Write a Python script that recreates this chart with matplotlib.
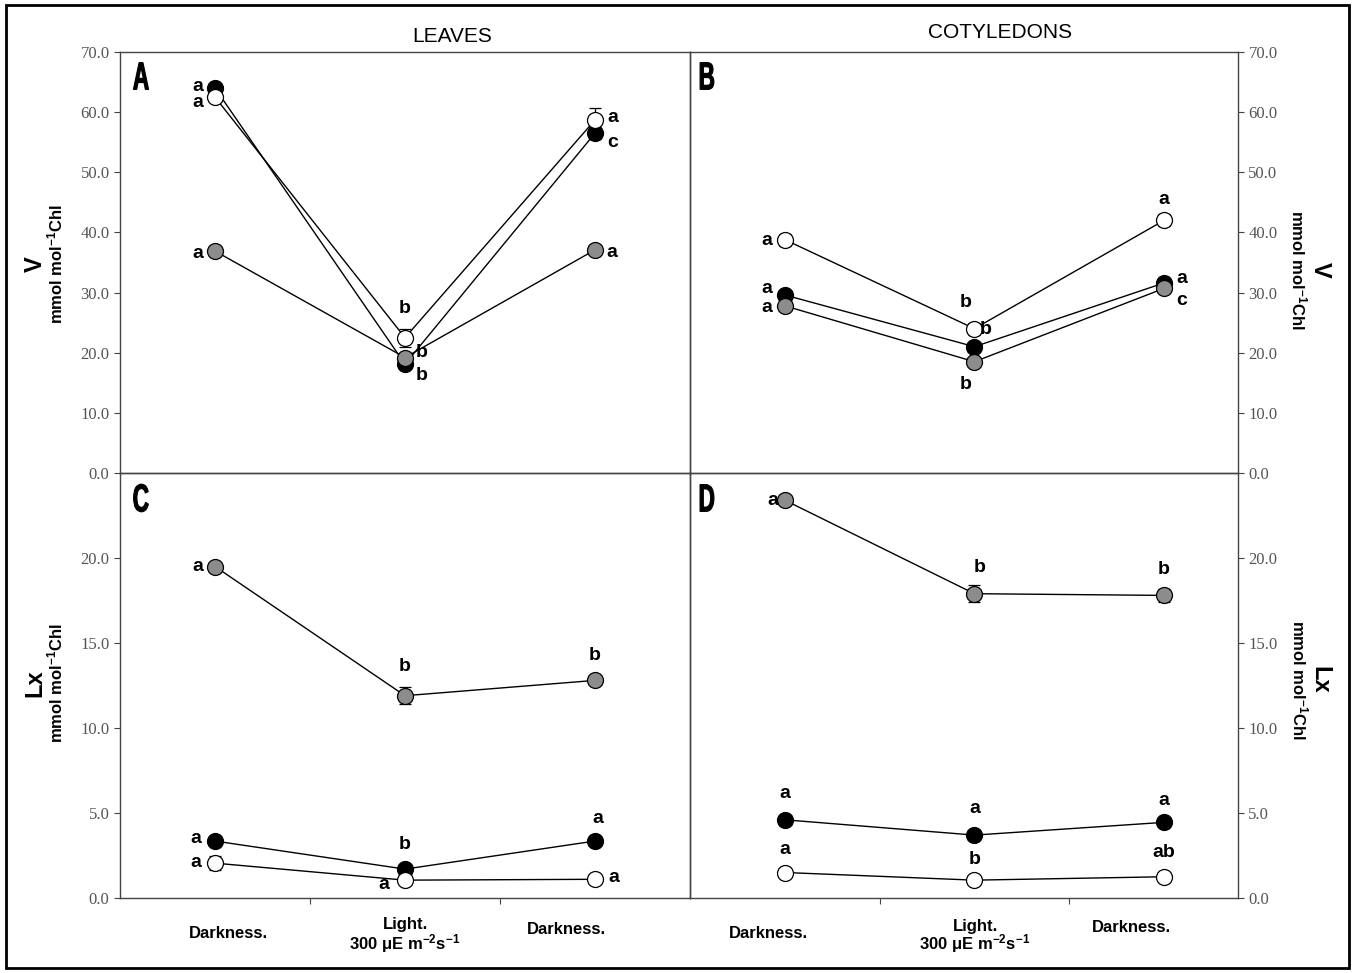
import matplotlib
matplotlib.use("Agg")
import matplotlib.pyplot as plt
from matplotlib.patches import Rectangle, PathPatch
from matplotlib.textpath import TextPath
from matplotlib.font_manager import FontProperties
from matplotlib.transforms import Affine2D

plt.rcParams["mathtext.fontset"] = "custom"
plt.rcParams["mathtext.rm"] = "Liberation Sans:bold"
plt.rcParams["mathtext.it"] = "Liberation Sans:bold"
plt.rcParams["mathtext.bf"] = "Liberation Sans:bold"

# x positions of the three conditions (centres of the tick intervals)
x = [0.5, 1.5, 2.5]
conditions = ["Darkness.", "Light.", "Darkness."]
light_sub = "300 μE m$^{-2}$s$^{-1}$"

# panel A: leaves, V
A_black = [64.0, 18.1, 56.5]
A_black_err = [0.5, 0.6, 1.0]
A_black_lab = ["a", "b", "c"]
A_white = [62.5, 22.5, 58.7]
A_white_err = [0.5, 1.5, 2.0]
A_white_lab = ["a", "b", "a"]
A_gray = [36.9, 19.2, 37.1]
A_gray_err = [0.4, 0.8, 0.5]
A_gray_lab = ["a", "b", "a"]

# panel B: cotyledons, V
B_white = [38.8, 24.0, 42.0]
B_white_err = [1.0, 1.0, 1.0]
B_white_lab = ["a", "b", "a"]
B_black = [29.6, 21.0, 31.6]
B_black_err = [0.5, 0.8, 0.5]
B_black_lab = ["a", "b", "a"]
B_gray = [27.8, 18.5, 30.7]
B_gray_err = [0.5, 0.5, 0.5]
B_gray_lab = ["a", "b", "c"]

# panel C: leaves, Lx
C_gray = [19.5, 11.9, 12.8]
C_gray_err = [0.2, 0.5, 0.2]
C_gray_lab = ["a", "b", "b"]
C_black = [3.35, 1.7, 3.35]
C_black_err = [0.2, 0.3, 0.2]
C_black_lab = ["a", "b", "a"]
C_white = [2.05, 1.05, 1.1]
C_white_err = [0.4, 0.1, 0.1]
C_white_lab = ["a", "a", "a"]

# panel D: cotyledons, Lx
D_gray = [23.4, 17.9, 17.8]
D_gray_err = [0.2, 0.5, 0.4]
D_gray_lab = ["a", "b", "b"]
D_black = [4.6, 3.7, 4.45]
D_black_err = [0.1, 0.1, 0.1]
D_black_lab = ["a", "a", "a"]
D_white = [1.5, 1.05, 1.25]
D_white_err = [0.1, 0.1, 0.1]
D_white_lab = ["a", "b", "ab"]

W, H = 1353, 973
fig = plt.figure(figsize=(W / 100, H / 100), dpi=100)

SERIF = ["Liberation Serif", "DejaVu Serif"]
SANS = ["Liberation Sans", "DejaVu Sans"]
STYLE = {"black": "black", "white": "white", "gray": "#8c8c8c"}


def box(x0, y0, x1, y1):
    return [x0 / W, 1 - y1 / H, (x1 - x0) / W, (y1 - y0) / H]


axA = fig.add_axes(box(120, 52, 690, 473))
axB = fig.add_axes(box(690, 52, 1238, 473))
axC = fig.add_axes(box(120, 473, 690, 898))
axD = fig.add_axes(box(690, 473, 1238, 898))


def series(ax, y, err, labels, colour, offsets):
    ax.errorbar(x, y, yerr=err, fmt="none", ecolor="black", elinewidth=0.9,
                capsize=4, capthick=0.9, zorder=2)
    ax.plot(x, y, "-", color="black", lw=1.0, zorder=1)
    ax.plot(x, y, "o", ms=11.5, mfc=STYLE[colour], mec="black", mew=0.9,
            zorder=3)
    for xi, yi, lab, off in zip(x, y, labels, offsets):
        ax.annotate(lab, (xi, yi), xytext=off, textcoords="offset pixels",
                    ha="center", va="center", fontsize=14, fontweight="bold",
                    family=SANS, zorder=4)


series(axA, A_black, A_black_err, A_black_lab, "black",
       [(-17, 2), (17, -11), (18, -9)])
series(axA, A_white, A_white_err, A_white_lab, "white",
       [(-17, -5), (0, 29), (18, 2)])
series(axA, A_gray, A_gray_err, A_gray_lab, "gray",
       [(-17, -2), (17, 5), (17, -3)])

series(axB, B_white, B_white_err, B_white_lab, "white",
       [(-18, -1), (-9, 26), (0, 21)])
series(axB, B_black, B_black_err, B_black_lab, "black",
       [(-18, 6), (11, 17), (18, 4)])
series(axB, B_gray, B_gray_err, B_gray_lab, "gray",
       [(-18, -2), (-9, -23), (18, -12)])

series(axC, C_gray, C_gray_err, C_gray_lab, "gray",
       [(-17, 0), (0, 29), (0, 25)])
series(axC, C_black, C_black_err, C_black_lab, "black",
       [(-19, 3), (0, 25), (3, 23)])
series(axC, C_white, C_white_err, C_white_lab, "white",
       [(-19, 1), (-21, -4), (19, 2)])

series(axD, D_gray, D_gray_err, D_gray_lab, "gray",
       [(-12, 0), (5, 26), (0, 26)])
series(axD, D_black, D_black_err, D_black_lab, "black",
       [(0, 26), (0, 27), (0, 22)])
series(axD, D_white, D_white_err, D_white_lab, "white",
       [(0, 23), (0, 21), (0, 24)])

for ax, top in [(axA, True), (axB, True), (axC, False), (axD, False)]:
    if top:
        ax.set_ylim(0, 70)
        ax.set_yticks(range(0, 71, 10))
    else:
        ax.set_ylim(0, 25)
        ax.set_yticks(range(0, 21, 5))
    ax.set_yticklabels(["%.1f" % t for t in ax.get_yticks()], family=SERIF,
                       fontsize=12, color="#555555")
    for s in ax.spines.values():
        s.set_color("#444444")
        s.set_linewidth(1.0)
    ax.tick_params(axis="y", direction="out", length=4, color="#444444")
    ax.tick_params(axis="x", direction="out", length=4, color="#444444")
    ax.set_facecolor("none")

axA.set_xlim(0, 3)
axC.set_xlim(0, 3)
axB.set_xlim(0, 2.89)
axD.set_xlim(0, 2.89)
for ax in (axA, axB):
    ax.set_xticks([])
for ax in (axC, axD):
    ax.set_xticks([1, 2])
    ax.set_xticklabels([])
for ax in (axB, axD):
    ax.yaxis.tick_right()

# panel letters, drawn as horizontally squeezed text paths (condensed look)
fp = FontProperties(family=SANS, weight="bold")
for letter, px, py in [("A", 141, 76), ("B", 707, 76), ("C", 141, 498),
                       ("D", 707, 498)]:
    tp = TextPath((0, 0), letter, size=39, prop=fp)
    bb = tp.get_extents()
    tr = (Affine2D().translate(-(bb.x0 + bb.x1) / 2, -(bb.y0 + bb.y1) / 2)
          .scale(0.58, 1.0).translate(px, H - py))
    fig.patches.append(PathPatch(tr.transform_path(tp), facecolor="black",
                                 edgecolor="black", lw=0.8, transform=None))

# titles
fig.text(452 / W, 1 - 37 / H, "LEAVES", ha="center", va="center",
         fontsize=15, family=SANS)
fig.text(1000 / W, 1 - 33 / H, "COTYLEDONS", ha="center", va="center",
         fontsize=15, family=SANS)

# category labels under the bottom panels
for px, py, lab in [(228, 933, conditions[0]), (405, 925, conditions[1]),
                    (566, 930, conditions[2]), (768, 934, conditions[0]),
                    (975, 926, conditions[1]), (1131, 928, conditions[2])]:
    fig.text(px / W, 1 - py / H, lab, ha="center", va="center", fontsize=12,
             fontweight="bold", family=SANS)
for px in (405, 975):
    fig.text(px / W, 1 - 944 / H, light_sub, ha="center", va="center",
             fontsize=12, fontweight="bold", family=SANS)

# y axis titles
unit = "mmol mol$^{-1}$Chl"
for (xv, xu, yc, name, rot) in [(35, 55, 264, "V", 90), (35, 55, 683, "Lx", 90),
                                (1320, 1299, 270, "V", 270),
                                (1320, 1300, 680, "Lx", 270)]:
    fig.text(xv / W, 1 - yc / H, name, ha="center", va="center", fontsize=17,
             fontweight="bold", family=SANS, rotation=rot)
    fig.text(xu / W, 1 - yc / H, unit, ha="center", va="center", fontsize=12,
             fontweight="bold", family=SANS, rotation=rot)

# outer frame
fig.patches.append(Rectangle((6 / W, 1 - 968 / H), 1343 / W, 963 / H,
                             transform=fig.transFigure, fill=False,
                             edgecolor="black", lw=2.0))

fig.savefig("out.png", dpi=100)
